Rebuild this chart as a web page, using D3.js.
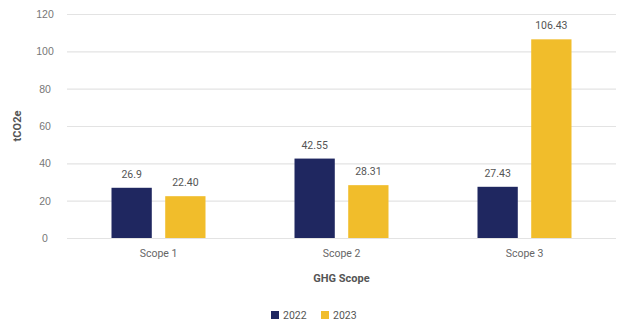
<!DOCTYPE html>
<html>
<head>
<meta charset="utf-8">
<script src="https://cdn.jsdelivr.net/npm/d3@7"></script>
<style>
  html, body { margin: 0; padding: 0; background: #fff; }
  svg { display: block; font-family: Roboto, "Noto Sans", sans-serif; }
</style>
</head>
<body>
<svg id="chart" width="621" height="329"></svg>
<script>
// GHG emissions by scope, tCO2e
const categories = ["Scope 1", "Scope 2", "Scope 3"];
const years = ["2022", "2023"];
const values2022 = [26.9, 42.55, 27.43];
const values2023 = [22.40, 28.31, 106.43];
const labels2022 = ["26.9", "42.55", "27.43"];
const labels2023 = ["22.40", "28.31", "106.43"];
const yTicks = [0, 20, 40, 60, 80, 100, 120];
const colors = ["#1f2760", "#f1bd2b"];

const seriesValues = [values2022, values2023];
const seriesLabels = [labels2022, labels2023];

const svg = d3.select("#chart");
const plot = { left: 67, right: 616, top: 14, bottom: 238 };

const x0 = d3.scaleBand().domain(categories).range([plot.left, plot.right]).padding(0);
const groupWidth = 94;
const x1 = d3.scaleBand().domain(years).range([0, groupWidth]).paddingInner(0.25).paddingOuter(0);
const y = d3.scaleLinear().domain([0, 120]).range([plot.bottom, plot.top]);

// gridlines and tick labels
const yAxis = d3.axisLeft(y).tickValues(yTicks).tickSize(-(plot.right - plot.left)).tickPadding(0);
const gy = svg.append("g").attr("transform", `translate(${plot.left},0)`).call(yAxis);
gy.select(".domain").remove();
gy.selectAll(".tick line").attr("stroke", "#e3e3e3").attr("stroke-width", 1.2);
gy.selectAll(".tick text")
  .attr("x", -22).attr("text-anchor", "middle")
  .attr("fill", "#777").attr("font-size", 10.5);

// bars
const groups = svg.append("g").selectAll("g")
  .data(categories)
  .join("g")
  .attr("transform", d => `translate(${x0(d) + x0.bandwidth() / 2 - groupWidth / 2},0)`);

groups.selectAll("rect")
  .data((c, i) => years.map((yr, s) => ({ yr, s, v: seriesValues[s][i], label: seriesLabels[s][i] })))
  .join("rect")
  .attr("x", d => x1(d.yr))
  .attr("width", x1.bandwidth())
  .attr("y", d => y(d.v))
  .attr("height", d => y(0) - y(d.v))
  .attr("fill", d => colors[d.s]);

// value labels
groups.selectAll("text.val")
  .data((c, i) => years.map((yr, s) => ({ yr, s, v: seriesValues[s][i], label: seriesLabels[s][i] })))
  .join("text")
  .attr("class", "val")
  .attr("x", d => x1(d.yr) + x1.bandwidth() / 2)
  .attr("y", d => y(d.v) - 10)
  .attr("text-anchor", "middle")
  .attr("fill", "#555")
  .attr("font-size", 10.5)
  .text(d => d.label);

// category axis labels
const xAxis = d3.axisBottom(x0).tickSize(0).tickPadding(12);
const gx = svg.append("g").attr("transform", `translate(0,${plot.bottom})`).call(xAxis);
gx.select(".domain").remove();
gx.selectAll(".tick text").attr("fill", "#666").attr("font-size", 10.5).attr("font-family", "Roboto, sans-serif");

// axis titles
svg.append("text")
  .attr("x", (plot.left + plot.right) / 2)
  .attr("y", 282)
  .attr("text-anchor", "middle")
  .attr("font-weight", "bold")
  .attr("font-size", 11)
  .attr("fill", "#555")
  .text("GHG Scope");

svg.append("text")
  .attr("transform", `translate(21,${(plot.top + plot.bottom) / 2}) rotate(-90)`)
  .attr("text-anchor", "middle")
  .attr("font-weight", "bold")
  .attr("font-size", 11)
  .attr("fill", "#555")
  .text("tCO2e");

// legend
const legend = svg.append("g").attr("transform", "translate(271,318)");
const legendItems = legend.selectAll("g")
  .data(years)
  .join("g")
  .attr("transform", (d, i) => `translate(${i * 50},0)`);
legendItems.append("rect")
  .attr("x", 0).attr("y", -7).attr("width", 8).attr("height", 8)
  .attr("fill", (d, i) => colors[i]);
legendItems.append("text")
  .attr("x", 12).attr("y", 0.5)
  .attr("dominant-baseline", "middle")
  .attr("dy", "-0.2em")
  .attr("fill", "#555")
  .attr("font-size", 10.5)
  .text(d => d);
</script>
</body>
</html>
